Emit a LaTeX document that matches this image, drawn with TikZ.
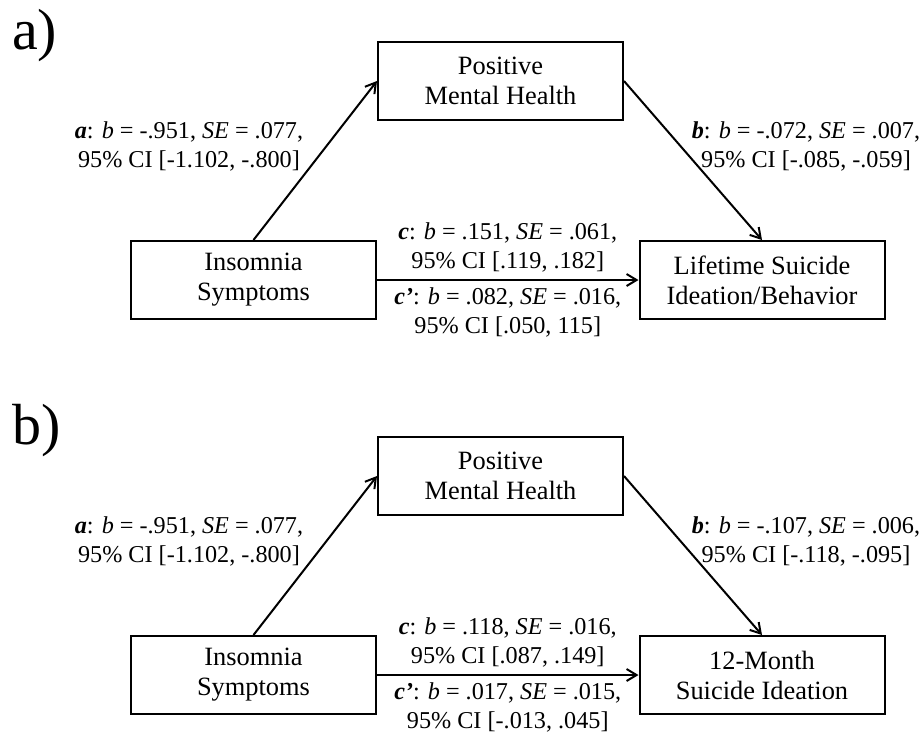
\documentclass[tikz,border=0pt]{standalone}
\usepackage{fontspec}
\setmainfont{Liberation Serif}
\usepackage{tikz}
\usetikzlibrary{arrows.meta}

\tikzset{varbox/.style={draw,minimum width=122.5pt,minimum height=39pt,align=center,font=\fontsize{13.2}{15}\selectfont},
  coef/.style={align=center,font=\fontsize{12.1}{14.5}\selectfont},
  panellabel/.style={anchor=base west,inner sep=0pt,font=\fontsize{29}{32}\selectfont}}
\newcommand{\pathlab}[1]{\textbf{\textit{#1}}}

\begin{document}
\begin{tikzpicture}[x=0.5pt,y=-0.5pt,line width=1pt,>={Straight Barb[length=5pt,width=6pt]}]
\useasboundingbox (0,0) rectangle (921,741);
% panel a
 \draw (11,49) node[panellabel] (a) {a)};
  \draw (500.5,81) node[varbox] (Positive) {Positive\\Mental Health};
    \draw (253.5,280) node[varbox] (Insomnia) {Insomnia\\Symptoms};
    \draw (762,280) node[varbox] (Lifetime) {Lifetime Suicide\\Ideation/Behavior};
     \draw (189,146) node[coef] (aA) {\pathlab{a}: \textit{b} = -.951, \textit{SE} = .077,\\95\% CI [-1.102, -.800]};
     \draw (806,146) node[coef] (bA) {\pathlab{b}: \textit{b} = -.072, \textit{SE} = .007,\\95\% CI [-.085, -.059]};

     \path[->] (Insomnia.north) edge (Positive.west);
     \path[->] (Positive.east) edge (Lifetime.north);
     \path[->] (Insomnia) edge node[coef,above] {\pathlab{c}: \textit{b} = .151, \textit{SE} = .061,\\95\% CI [.119, .182]}
        node[coef,below] {\pathlab{c'}: \textit{b} = .082, \textit{SE} = .016,\\95\% CI [.050, 115]} (Lifetime);

% panel b
 \draw (11,444) node[panellabel] (b) {b)};
  \draw (500.5,476) node[varbox] (PositiveB) {Positive\\Mental Health};
    \draw (253.5,675) node[varbox] (InsomniaB) {Insomnia\\Symptoms};
    \draw (762,675) node[varbox] (Month12) {12-Month\\Suicide Ideation};
     \draw (189,541) node[coef] (aB) {\pathlab{a}: \textit{b} = -.951, \textit{SE} = .077,\\95\% CI [-1.102, -.800]};
     \draw (806,541) node[coef] (bB) {\pathlab{b}: \textit{b} = -.107, \textit{SE} = .006,\\95\% CI [-.118, -.095]};

     \path[->] (InsomniaB.north) edge (PositiveB.west);
     \path[->] (PositiveB.east) edge (Month12.north);
     \path[->] (InsomniaB) edge node[coef,above] {\pathlab{c}: \textit{b} = .118, \textit{SE} = .016,\\95\% CI [.087, .149]}
        node[coef,below] {\pathlab{c'}: \textit{b} = .017, \textit{SE} = .015,\\95\% CI [-.013, .045]} (Month12);

\end{tikzpicture}
\end{document}
